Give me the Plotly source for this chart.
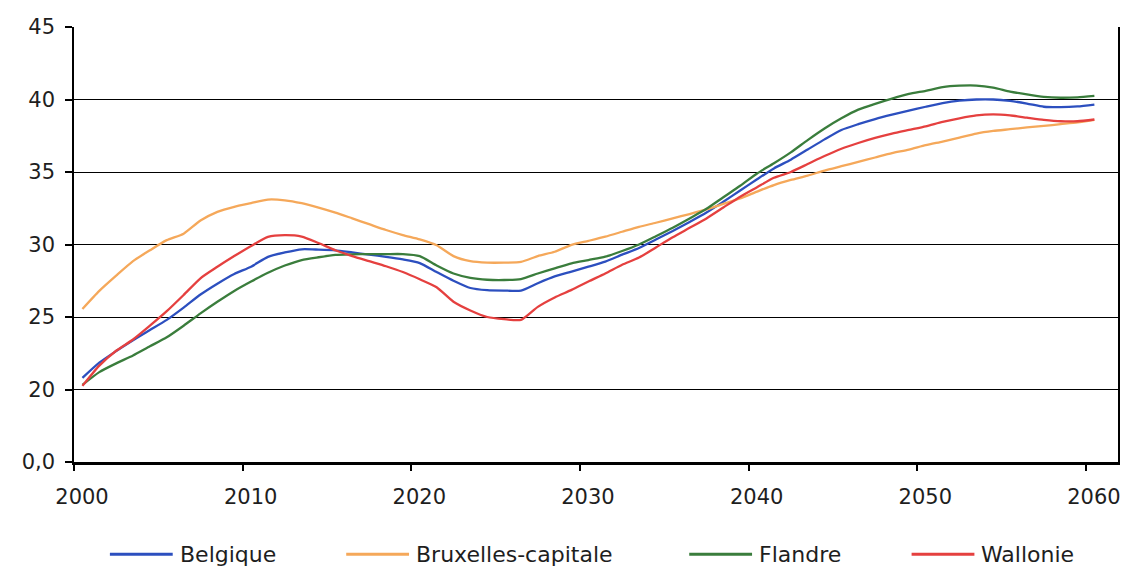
import plotly.graph_objects as go

# Annual series, 2000-2060
years = list(range(2000, 2061))

belgique = [
    20.8, 21.85, 22.65, 23.4, 24.1, 24.8, 25.65, 26.55, 27.3, 27.97,
    28.47, 29.15, 29.45, 29.67, 29.65, 29.6, 29.45, 29.3, 29.15, 28.97,
    28.72, 28.1, 27.5, 27.0, 26.85, 26.82, 26.82, 27.33, 27.8, 28.13,
    28.47, 28.82, 29.3, 29.76, 30.35, 30.93, 31.55, 32.2, 32.95, 33.72,
    34.5, 35.25, 35.85, 36.55, 37.25, 37.9, 38.3, 38.65, 38.95, 39.23,
    39.5, 39.75, 39.92, 40.0, 40.0, 39.9, 39.72, 39.5, 39.47, 39.52,
    39.65,
]
bruxelles = [
    25.55, 26.8, 27.85, 28.85, 29.6, 30.3, 30.75, 31.65, 32.25, 32.6,
    32.85, 33.1, 33.05, 32.85, 32.55, 32.2, 31.8, 31.4, 31.0, 30.65,
    30.35, 29.95, 29.2, 28.85, 28.75, 28.75, 28.8, 29.2, 29.5, 29.97,
    30.25, 30.54, 30.88, 31.22, 31.5, 31.8, 32.1, 32.42, 32.8, 33.18,
    33.65, 34.1, 34.45, 34.75, 35.1, 35.4, 35.7, 36.0, 36.3, 36.55,
    36.85, 37.1, 37.37, 37.65, 37.83, 37.95, 38.08, 38.18, 38.3, 38.42,
    38.6,
]
flandre = [
    20.32, 21.2, 21.8, 22.35, 22.98, 23.6, 24.4, 25.25, 26.05, 26.8,
    27.45, 28.05, 28.55, 28.93, 29.12, 29.28, 29.32, 29.34, 29.34, 29.34,
    29.2, 28.55, 28.0, 27.7, 27.57, 27.55, 27.62, 28.0, 28.36, 28.7,
    28.93, 29.16, 29.55, 30.0, 30.57, 31.16, 31.8, 32.46, 33.26, 34.05,
    34.9, 35.6, 36.35, 37.2, 38.0, 38.7, 39.3, 39.7, 40.06, 40.38,
    40.6, 40.85, 40.95, 40.96, 40.82, 40.55, 40.35, 40.18, 40.12, 40.15,
    40.25,
]
wallonie = [
    20.25, 21.65, 22.67, 23.45, 24.4, 25.4, 26.52, 27.67, 28.46, 29.2,
    29.9, 30.53, 30.65, 30.55, 30.1, 29.6, 29.2, 28.85, 28.5, 28.1,
    27.6, 27.05, 26.05, 25.45, 25.0, 24.85, 24.8, 25.7, 26.35, 26.87,
    27.45, 28.0, 28.6, 29.1, 29.8, 30.5, 31.15, 31.8, 32.55, 33.3,
    33.95, 34.6, 35.0, 35.55, 36.1, 36.6, 37.0, 37.35, 37.65, 37.9,
    38.15, 38.45, 38.7, 38.9, 38.97, 38.9, 38.75, 38.6, 38.5, 38.5,
    38.62,
]

series_names = ["Belgique", "Bruxelles-capitale", "Flandre", "Wallonie"]
series_values = [belgique, bruxelles, flandre, wallonie]
series_colors = ["#2c4fbf", "#f5a85a", "#3a7d3c", "#e5403f"]

x_tick_vals = [2000, 2010, 2020, 2030, 2040, 2050, 2060]
x_tick_text = ["2000", "2010", "2020", "2030", "2040", "2050", "2060"]
# broken scale: the bottom of the axis is labelled 0,0
y_tick_vals = [15, 20, 25, 30, 35, 40, 45]
y_tick_text = ["0,0", "20", "25", "30", "35", "40", "45"]

FONT = "DejaVu Sans"
TEXT = "#1e1e1e"

fig = go.Figure()

# annual values plotted at mid-year
x_mid = [y + 0.5 for y in years]
for name, vals, col in zip(series_names, series_values, series_colors):
    fig.add_trace(go.Scatter(
        x=x_mid, y=vals, name=name, mode="lines",
        line=dict(color=col, width=2.3, shape="spline", smoothing=0.6),
        showlegend=False,
    ))

# legend drawn below the plot: sample line followed by the label
W_PLOT = 1047.0
legend_px = [36, 273, 617, 840]   # offsets of each entry from the plot's left edge
line_len = 63
legend_y = -0.212
for name, col, px in zip(series_names, series_colors, legend_px):
    fig.add_shape(type="line", xref="paper", yref="paper",
                  x0=px / W_PLOT, x1=(px + line_len) / W_PLOT,
                  y0=legend_y, y1=legend_y,
                  line=dict(color=col, width=3))
    fig.add_annotation(xref="paper", yref="paper",
                       x=(px + line_len + 5) / W_PLOT, y=legend_y,
                       xanchor="left", yanchor="middle", showarrow=False,
                       text=name, font=dict(family=FONT, size=22, color=TEXT))

fig.update_layout(
    width=1127, height=566,
    margin=dict(l=74, r=6, t=27, b=104),
    paper_bgcolor="white", plot_bgcolor="white",
    font=dict(family=FONT, size=21, color=TEXT),
    showlegend=False,
)

fig.update_xaxes(
    range=[2000, 2061.9],
    tickmode="array", tickvals=x_tick_vals, ticktext=x_tick_text,
    ticks="outside", ticklen=6, tickwidth=1.5, tickcolor="black",
    ticklabelshift=8, ticklabelstandoff=8,
    showline=True, linecolor="black", linewidth=2.5,
    showgrid=False, zeroline=False,
    tickfont=dict(family=FONT, size=21, color=TEXT),
)
fig.update_yaxes(
    range=[15, 45],
    tickmode="array", tickvals=y_tick_vals, ticktext=y_tick_text,
    ticks="outside", ticklen=7, tickwidth=1.5, tickcolor="black",
    ticklabelstandoff=6,
    showline=True, linecolor="black", linewidth=1.5, mirror=True,
    showgrid=True, gridcolor="black", gridwidth=1.4,
    zeroline=False,
    tickfont=dict(family=FONT, size=21, color=TEXT),
)

fig.write_html("out.html")
